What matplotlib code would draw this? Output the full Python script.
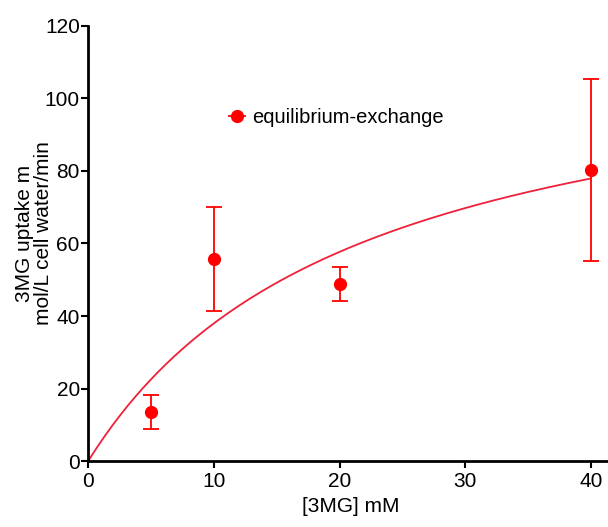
import numpy as np
import matplotlib
matplotlib.use("Agg")
import matplotlib.pyplot as plt
from matplotlib.lines import Line2D

plt.rcParams['font.family'] = ['Liberation Sans', 'DejaVu Sans']

# equilibrium-exchange uptake of 3MG
conc_mM = [5, 10, 20, 40]
uptake = [13.5, 55.7, 48.8, 80.3]
uptake_err = [4.7, 14.3, 4.6, 25.0]

# Michaelis-Menten fit parameters
vmax = 120.0
km = 21.6

red = '#ff0000'

fig = plt.figure(figsize=(6.08, 5.27), dpi=100)
ax = fig.add_axes([0.145, 0.125, 0.855, 0.826])

xs = np.linspace(0, 40, 200)
ax.plot(xs, vmax * xs / (km + xs), color='#f0203a', lw=1.3, zorder=2)

ax.errorbar(conc_mM, uptake, yerr=uptake_err, fmt='o', color=red,
            ms=8.5, elinewidth=1.3, capsize=5.5, capthick=1.3, zorder=3)

ax.set_xlim(0, 41.35)
ax.set_ylim(0, 120)
ax.set_xticks([0, 10, 20, 30, 40])
ax.set_yticks([0, 20, 40, 60, 80, 100, 120])

for side in ['top', 'right']:
    ax.spines[side].set_visible(False)
for side in ['left', 'bottom']:
    ax.spines[side].set_linewidth(2)
ax.tick_params(direction='out', length=5, width=1.5, labelsize=15)
ax.tick_params(axis='y', pad=1)
ax.tick_params(axis='x', pad=3)

ax.set_xlabel('[3MG] mM', fontsize=15)
ax.xaxis.set_label_coords(0.505, -0.082)
ax.set_ylabel('3MG uptake m\nmol/L cell water/min', fontsize=15, linespacing=0.97)
ax.yaxis.set_label_coords(-0.068, 0.524)

handle = Line2D([], [], color=red, marker='o', ms=8.5, lw=1.3)
ax.legend([handle], ['equilibrium-exchange'], loc='center left',
          bbox_to_anchor=(0.255, 0.79), frameon=False, fontsize=14.5,
          handletextpad=0.35, handlelength=0.8, borderaxespad=0)

fig.savefig('out.png', dpi=100)
